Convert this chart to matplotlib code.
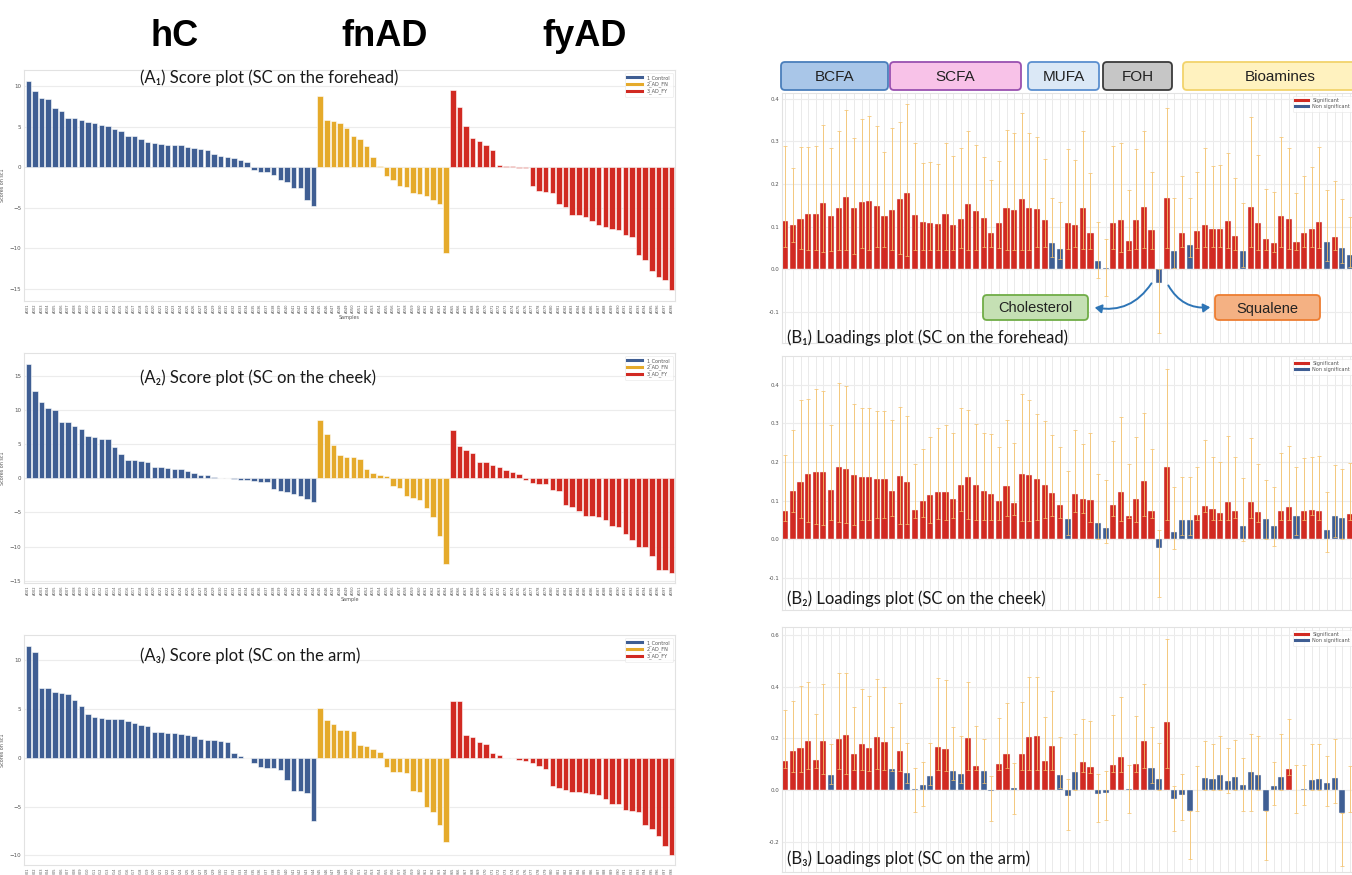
import numpy as np
import matplotlib.pyplot as plt
from matplotlib.patches import FancyBboxPatch, FancyArrowPatch
from matplotlib.lines import Line2D

W, H = 1352, 875

# PC1 scores per sample, sorted inside each group
a1_control = [10.6, 9.4, 8.6, 8.4, 7.3, 7.0, 6.05, 6.05, 5.85, 5.6, 5.5, 5.2, 5.1, 4.7, 4.5,
              3.9, 3.8, 3.5, 3.1, 3.0, 2.9, 2.8, 2.75, 2.7, 2.55, 2.35, 2.2, 2.1, 1.6, 1.45,
              1.3, 1.2, 0.9, 0.7, -0.3, -0.6, -0.6, -0.9, -1.6, -1.8, -2.5, -2.5, -4.1, -4.8]
a1_fn = [8.8, 5.85, 5.75, 5.4, 4.9, 3.9, 3.45, 2.6, 1.3, 0.2, -1.1, -1.6, -2.3, -2.4, -3.2,
         -3.3, -3.6, -4.1, -4.5, -10.6]
a1_fy = [9.5, 7.4, 5.1, 3.65, 3.2, 2.7, 2.15, 0.25, 0.15, 0.1, -0.05, -0.1, -2.3, -2.9, -3.0,
         -3.2, -4.5, -4.9, -5.9, -5.9, -6.1, -6.6, -7.1, -7.4, -7.6, -7.7, -8.35, -8.6, -10.8,
         -11.5, -12.8, -13.6, -13.9, -15.2]

a2_control = [16.7, 12.8, 11.1, 10.3, 10.0, 8.2, 8.15, 7.6, 7.2, 6.2, 6.0, 5.8, 5.8, 4.6, 3.5,
              2.6, 2.6, 2.5, 2.4, 1.7, 1.65, 1.45, 1.4, 1.4, 1.1, 0.7, 0.5, 0.45, 0.2, 0.05,
              0.0, -0.1, -0.2, -0.3, -0.4, -0.5, -0.55, -1.5, -1.9, -2.0, -2.3, -2.6, -3.1, -3.5]
a2_fn = [8.5, 6.45, 4.9, 3.4, 3.05, 3.05, 2.75, 1.4, 0.8, 0.5, 0.3, -1.15, -1.45, -2.65, -2.85,
         -3.2, -4.3, -5.6, -8.4, -12.5]
a2_fy = [7.1, 4.7, 4.1, 3.65, 2.4, 2.35, 1.95, 1.7, 1.25, 0.9, 0.6, -0.2, -0.75, -0.85, -0.85,
         -1.7, -1.9, -3.9, -4.2, -4.85, -5.5, -5.55, -5.6, -6.05, -6.95, -7.15, -8.15, -9.0,
         -10.05, -10.05, -11.4, -13.35, -13.45, -13.8]

a3_control = [11.5, 10.9, 7.2, 7.2, 6.8, 6.6, 6.55, 5.9, 5.3, 4.45, 4.2, 4.1, 4.0, 3.95, 3.95,
              3.8, 3.6, 3.35, 3.3, 2.65, 2.6, 2.55, 2.55, 2.45, 2.3, 2.2, 1.9, 1.85, 1.8, 1.7,
              1.65, 0.5, 0.15, 0.02, -0.55, -0.9, -1.0, -1.05, -1.25, -2.3, -3.4, -3.4, -3.6, -6.5]
a3_fn = [5.1, 3.85, 3.5, 2.85, 2.85, 2.8, 1.3, 1.2, 0.95, 0.6, -0.9, -1.45, -1.5, -1.55, -3.4,
         -3.55, -5.0, -5.6, -6.85, -8.6]
a3_fy = [5.8, 5.8, 2.3, 2.1, 1.65, 1.45, 0.5, 0.25, 0.02, -0.03, -0.25, -0.3, -0.5, -0.85, -1.1,
         -2.9, -3.1, -3.3, -3.5, -3.5, -3.65, -3.75, -3.85, -4.2, -4.7, -4.7, -5.35, -5.45, -5.6,
         -6.9, -7.35, -8.05, -9.05, -10.0]

groups = ["1_Control", "2_AD_FN", "3_AD_FY"]
group_colors = ["#3f5e93", "#e5aa2b", "#d12a22"]

# PC1 loadings with bootstrap interval (low, up); bar numbers that are non significant
b1_load = [0.113, 0.103, 0.118, 0.129, 0.129, 0.155, 0.124, 0.143, 0.169, 0.143,
           0.157, 0.160, 0.149, 0.125, 0.140, 0.164, 0.178, 0.127, 0.110, 0.109,
           0.106, 0.129, 0.103, 0.117, 0.152, 0.137, 0.120, 0.085, 0.108, 0.143,
           0.139, 0.165, 0.144, 0.142, 0.116, 0.062, 0.047, 0.109, 0.103, 0.143,
           0.085, 0.020, 0.003, 0.108, 0.116, 0.067, 0.115, 0.146, 0.091, -0.032,
           0.166, 0.042, 0.085, 0.058, 0.089, 0.103, 0.095, 0.094, 0.114, 0.079,
           0.043, 0.146, 0.109, 0.070, 0.062, 0.126, 0.117, 0.063, 0.085, 0.095,
           0.112, 0.065, 0.075, 0.049, 0.034]
b1_low = [0.052, 0.063, 0.048, 0.046, 0.046, 0.041, 0.043, 0.046, 0.046, 0.036,
          0.051, 0.046, 0.052, 0.052, 0.046, 0.035, 0.032, 0.046, 0.046, 0.046,
          0.046, 0.046, 0.046, 0.050, 0.046, 0.046, 0.052, 0.052, 0.050, 0.046,
          0.046, 0.046, 0.046, 0.052, 0.052, 0.030, 0.025, 0.048, 0.052, 0.048,
          0.048, -0.020, -0.063, 0.048, 0.040, 0.046, 0.048, 0.050, 0.048, -0.150,
          0.050, 0.004, 0.052, 0.030, 0.050, 0.052, 0.052, 0.052, 0.050, 0.046,
          0.005, 0.052, 0.046, 0.046, 0.040, 0.052, 0.048, 0.046, 0.052, 0.052,
          0.050, 0.020, 0.046, 0.015, 0.005]
b1_up = [0.289, 0.238, 0.286, 0.287, 0.290, 0.337, 0.285, 0.325, 0.373, 0.307,
         0.352, 0.358, 0.335, 0.274, 0.330, 0.346, 0.387, 0.295, 0.248, 0.251,
         0.247, 0.297, 0.266, 0.285, 0.323, 0.291, 0.263, 0.209, 0.254, 0.326,
         0.320, 0.365, 0.320, 0.311, 0.259, 0.168, 0.157, 0.281, 0.256, 0.325,
         0.225, 0.110, 0.071, 0.289, 0.297, 0.186, 0.282, 0.323, 0.227, 0.000,
         0.377, 0.167, 0.219, 0.167, 0.229, 0.283, 0.243, 0.245, 0.272, 0.213,
         0.155, 0.357, 0.267, 0.189, 0.181, 0.311, 0.283, 0.179, 0.219, 0.240,
         0.286, 0.185, 0.207, 0.164, 0.123]
b1_nonsig = [36, 37, 42, 43, 50, 52, 54, 61, 72, 74, 75]

b2_load = [0.072, 0.125, 0.148, 0.170, 0.174, 0.174, 0.128, 0.187, 0.183, 0.167,
           0.160, 0.160, 0.156, 0.156, 0.126, 0.163, 0.147, 0.075, 0.098, 0.114,
           0.121, 0.123, 0.104, 0.140, 0.160, 0.140, 0.126, 0.117, 0.099, 0.137,
           0.094, 0.170, 0.166, 0.155, 0.141, 0.120, 0.088, 0.051, 0.116, 0.104,
           0.101, 0.041, 0.029, 0.089, 0.121, 0.061, 0.103, 0.150, 0.074, -0.022,
           0.186, 0.019, 0.050, 0.050, 0.063, 0.087, 0.078, 0.068, 0.097, 0.074,
           0.035, 0.096, 0.069, 0.051, 0.034, 0.073, 0.083, 0.060, 0.074, 0.076,
           0.072, 0.023, 0.060, 0.055, 0.064]
b2_low = [0.048, 0.070, 0.055, 0.045, 0.040, 0.037, 0.050, 0.045, 0.042, 0.036,
          0.050, 0.050, 0.055, 0.055, 0.060, 0.040, 0.038, 0.055, 0.058, 0.042,
          0.052, 0.050, 0.055, 0.072, 0.052, 0.050, 0.050, 0.050, 0.050, 0.060,
          0.062, 0.048, 0.048, 0.050, 0.055, 0.060, 0.055, 0.010, 0.070, 0.068,
          0.045, 0.000, -0.010, 0.060, 0.048, 0.055, 0.045, 0.060, 0.055, -0.149,
          0.050, -0.026, 0.010, 0.010, 0.050, 0.070, 0.050, 0.050, 0.050, 0.055,
          -0.005, 0.055, 0.045, 0.000, -0.017, 0.050, 0.050, 0.010, 0.050, 0.062,
          0.050, -0.033, 0.005, 0.000, 0.050]
b2_up = [0.218, 0.282, 0.360, 0.364, 0.390, 0.385, 0.297, 0.405, 0.396, 0.351,
         0.341, 0.340, 0.332, 0.332, 0.310, 0.342, 0.320, 0.196, 0.233, 0.265,
         0.288, 0.296, 0.276, 0.340, 0.336, 0.298, 0.276, 0.273, 0.240, 0.308,
         0.248, 0.377, 0.362, 0.324, 0.307, 0.271, 0.239, 0.176, 0.282, 0.246,
         0.274, 0.168, 0.152, 0.254, 0.316, 0.194, 0.265, 0.327, 0.233, 0.023,
         0.440, 0.135, 0.161, 0.161, 0.187, 0.256, 0.213, 0.200, 0.268, 0.213,
         0.158, 0.262, 0.194, 0.153, 0.135, 0.224, 0.241, 0.187, 0.211, 0.212,
         0.215, 0.123, 0.192, 0.181, 0.198]
b2_nonsig = [38, 42, 43, 50, 52, 53, 54, 61, 64, 65, 68, 72, 73, 74]

b3_load = [0.113, 0.152, 0.165, 0.192, 0.116, 0.189, 0.058, 0.198, 0.214, 0.139,
           0.180, 0.164, 0.205, 0.188, 0.081, 0.153, 0.066, 0.005, 0.021, 0.057,
           0.167, 0.161, 0.075, 0.064, 0.200, 0.094, 0.075, -0.003, 0.103, 0.139,
           0.010, 0.142, 0.205, 0.209, 0.113, 0.170, 0.061, -0.022, 0.072, 0.108,
           0.091, -0.015, -0.010, 0.097, 0.130, 0.005, 0.103, 0.189, 0.088, 0.045,
           0.265, -0.033, -0.017, -0.081, 0.000, 0.046, 0.042, 0.058, 0.037, 0.050,
           0.019, 0.070, 0.061, -0.081, 0.018, 0.052, 0.084, 0.000, 0.006, 0.041,
           0.045, 0.028, 0.048, -0.086, 0.000]
b3_low = [0.088, 0.072, 0.070, 0.081, 0.085, 0.064, 0.025, 0.081, 0.063, 0.080,
          0.080, 0.075, 0.082, 0.080, 0.075, 0.075, 0.030, -0.082, -0.059, 0.020,
          0.080, 0.075, 0.040, 0.030, 0.080, 0.080, 0.030, -0.120, 0.080, 0.085,
          -0.091, 0.080, 0.080, 0.080, 0.080, 0.080, 0.010, -0.153, 0.000, 0.070,
          0.065, -0.122, -0.115, 0.070, 0.070, -0.086, 0.070, 0.085, 0.030, 0.000,
          0.085, -0.158, -0.116, -0.264, -0.080, 0.000, 0.000, 0.000, -0.010, 0.000,
          -0.080, -0.080, 0.000, -0.269, -0.058, 0.000, 0.060, -0.089, -0.058, 0.000,
          0.000, -0.060, -0.050, -0.291, -0.082]
b3_up = [0.310, 0.345, 0.404, 0.417, 0.294, 0.412, 0.179, 0.452, 0.452, 0.321,
         0.389, 0.363, 0.429, 0.398, 0.243, 0.336, 0.184, 0.085, 0.108, 0.183,
         0.435, 0.424, 0.245, 0.210, 0.417, 0.249, 0.198, 0.055, 0.278, 0.336,
         0.107, 0.341, 0.437, 0.439, 0.283, 0.385, 0.207, 0.044, 0.216, 0.277,
         0.268, 0.062, 0.075, 0.290, 0.359, 0.097, 0.285, 0.410, 0.243, 0.184,
         0.585, 0.018, 0.063, -0.081, 0.094, 0.192, 0.179, 0.209, 0.162, 0.193,
         0.126, 0.219, 0.211, -0.081, 0.111, 0.216, 0.276, 0.098, 0.097, 0.178,
         0.180, 0.133, 0.198, -0.086, 0.095]
b3_nonsig = [7, 15, 17, 18, 19, 20, 23, 24, 27, 28, 31, 37, 38, 39, 42, 43, 46, 49, 50,
             52, 53, 54, 55, 56, 57, 58, 59, 60, 61, 62, 63, 64, 65, 66, 68, 69, 70, 71,
             72, 73, 74, 75]

sig_color = "#d12a22"
nonsig_color = "#3f5e93"
err_color = "#f5c26b"

fig = plt.figure(figsize=(W / 100, H / 100), dpi=100)
fig.patch.set_facecolor("white")


def rect(l, t, r, b):
    return [l / W, 1 - b / H, (r - l) / W, (b - t) / H]


def style_axes(ax):
    ax.set_facecolor("white")
    for s in ax.spines.values():
        s.set_color("#e2e2e2")
        s.set_linewidth(0.8)
    ax.tick_params(length=0, pad=2, labelsize=4, labelcolor="#555555")
    ax.grid(axis="y", color="#ececec", linewidth=0.8, zorder=0)
    ax.set_axisbelow(True)


def score_panel(box, parts, ylim, xlabel):
    ax = fig.add_axes(rect(*box))
    style_axes(ax)
    vals = np.concatenate(parts)
    cols = np.repeat(group_colors, [len(p) for p in parts])
    x = np.arange(len(vals))
    ax.bar(x, vals, width=0.82, color=cols, edgecolor="white", linewidth=0.4, zorder=2)
    ax.set_xlim(-0.65, len(vals) - 0.5)
    ax.set_yticks(np.arange(-15, 20, 5))
    ax.set_ylim(*ylim)
    ids = [f"A{k:03d}" for k in range(1, len(vals) + 1)]
    ax.set_xticks(x)
    ax.set_xticklabels(ids, rotation=90, fontsize=2.6)
    ax.set_ylabel("Scores on sc1", fontsize=3.5, color="#555555", labelpad=3)
    if xlabel:
        ax.set_xlabel(xlabel, fontsize=3.5, color="#555555", labelpad=1)
    handles = [Line2D([], [], color=c, lw=2.2) for c in group_colors]
    leg = ax.legend(handles, groups, loc="upper right", fontsize=3.6, frameon=True,
                    handlelength=3, borderpad=0.5, labelspacing=0.2)
    leg.get_frame().set_edgecolor("#e6e6e6")
    leg.get_frame().set_linewidth(0.5)
    for t in leg.get_texts():
        t.set_color("#555555")
    return ax


def loading_panel(box, load, low, up, nonsig, ylim, yticks):
    ax = fig.add_axes(rect(*box))
    style_axes(ax)
    n = len(load)
    x = np.arange(n)
    cols = [nonsig_color if i + 1 in nonsig else sig_color for i in range(n)]
    ax.bar(x, load, width=0.8, color=cols, edgecolor="#f4f4f4", linewidth=0.3, zorder=2)
    low = np.array(low)
    up = np.array(up)
    ax.errorbar(x, low, yerr=[np.zeros(n), up - low], fmt="none", ecolor=err_color,
                elinewidth=0.7, capsize=1.4, capthick=0.6, alpha=0.85, zorder=3)
    ax.set_xticks(x)
    ax.set_xticklabels([])
    ax.grid(axis="x", color="#e6e6e6", linewidth=0.6, zorder=0)
    ax.set_xlim(-0.43, n - 0.33)
    ax.set_yticks(yticks)
    ax.set_yticklabels([f"{v:.1f}" for v in yticks])
    ax.set_ylim(*ylim)
    handles = [Line2D([], [], color=c, lw=2.2) for c in (sig_color, nonsig_color)]
    leg = ax.legend(handles, ["Significant", "Non significant"], loc="upper right",
                    fontsize=3.6, frameon=True, handlelength=2.6, borderpad=0.5,
                    labelspacing=0.2)
    leg.get_frame().set_edgecolor("#e6e6e6")
    leg.get_frame().set_linewidth(0.5)
    for t in leg.get_texts():
        t.set_color("#555555")
    return ax


score_panel((24, 70, 675, 301), [a1_control, a1_fn, a1_fy], (-16.5, 12.0), "Samples")
score_panel((24, 353, 675, 583), [a2_control, a2_fn, a2_fy], (-15.3, 18.3), "Sample")
score_panel((24, 635, 675, 865), [a3_control, a3_fn, a3_fy], (-11.0, 12.6), None)

loading_panel((782, 93, 1355, 343), b1_load, b1_low, b1_up, b1_nonsig,
              (-0.1726, 0.413), [-0.1, 0.0, 0.1, 0.2, 0.3, 0.4])
loading_panel((782, 356, 1355, 610), b2_load, b2_low, b2_up, b2_nonsig,
              (-0.184, 0.475), [-0.1, 0.0, 0.1, 0.2, 0.3, 0.4])
loading_panel((782, 627, 1355, 872), b3_load, b3_low, b3_up, b3_nonsig,
              (-0.315, 0.63), [-0.2, 0.0, 0.2, 0.4, 0.6])

# overlay in pixel coordinates for headers, panel captions and callouts
ov = fig.add_axes([0, 0, 1, 1], zorder=10)
ov.set_xlim(0, W)
ov.set_ylim(H, 0)
ov.axis("off")
ov.patch.set_alpha(0)

for label, xc in [("hC", 175), ("fnAD", 385), ("fyAD", 585)]:
    ov.text(xc, 37, label, ha="center", va="center", fontsize=26, fontweight="bold",
            family="Liberation Sans", color="black")

cap_font = ["Lato", "DejaVu Sans"]
captions = [
    (140, 78, "(A\u2081) Score plot (SC on the forehead)"),
    (140, 378, "(A\u2082) Score plot (SC on the cheek)"),
    (140, 656, "(A\u2083) Score plot (SC on the arm)"),
    (787, 338, "(B\u2081) Loadings plot (SC on the forehead)"),
    (787, 599, "(B\u2082) Loadings plot (SC on the cheek)"),
    (787, 859, "(B\u2083) Loadings plot (SC on the arm)"),
]
for xl, yc, txt in captions:
    ov.text(xl, yc, txt, ha="left", va="center", fontsize=12, family=cap_font,
            color="#1a1a1a")


def label_box(x0, x1, y0, y1, text, face, edge, tx=None, size=11):
    p = FancyBboxPatch((x0, y0), x1 - x0, y1 - y0,
                       boxstyle="round,pad=0,rounding_size=4",
                       facecolor=face, edgecolor=edge, linewidth=1.3)
    ov.add_patch(p)
    ov.text((x0 + x1) / 2 if tx is None else tx, (y0 + y1) / 2 + 1, text,
            ha="center", va="center", fontsize=size, family="Liberation Sans",
            color="#222222")


label_box(781, 888, 62, 90, "BCFA", "#a9c6e8", "#4a7ebb")
label_box(890, 1021, 62, 90, "SCFA", "#f8c2e8", "#9950b0")
label_box(1028, 1099, 62, 90, "MUFA", "#dbe8f6", "#5b8fcf")
label_box(1103, 1172, 62, 90, "FOH", "#c6c6c6", "#3a3a3a")
label_box(1183, 1380, 62, 90, "Bioamines", "#fff2bf", "#f2d36b", tx=1280)

label_box(983, 1088, 295, 320, "Cholesterol", "#c5e0b4", "#70ad47", size=10.5)
label_box(1215, 1320, 295, 320, "Squalene", "#f4b183", "#ed7d31", size=10.5)

ov.add_patch(FancyArrowPatch((1153, 281), (1092, 307),
                             connectionstyle="arc3,rad=-0.35",
                             arrowstyle="-|>,head_length=4,head_width=2.5",
                             color="#2e75b6", lw=1.4))
ov.add_patch(FancyArrowPatch((1167, 283), (1213, 307),
                             connectionstyle="arc3,rad=0.35",
                             arrowstyle="-|>,head_length=4,head_width=2.5",
                             color="#2e75b6", lw=1.4))

fig.savefig("out.png", dpi=100, facecolor="white")
